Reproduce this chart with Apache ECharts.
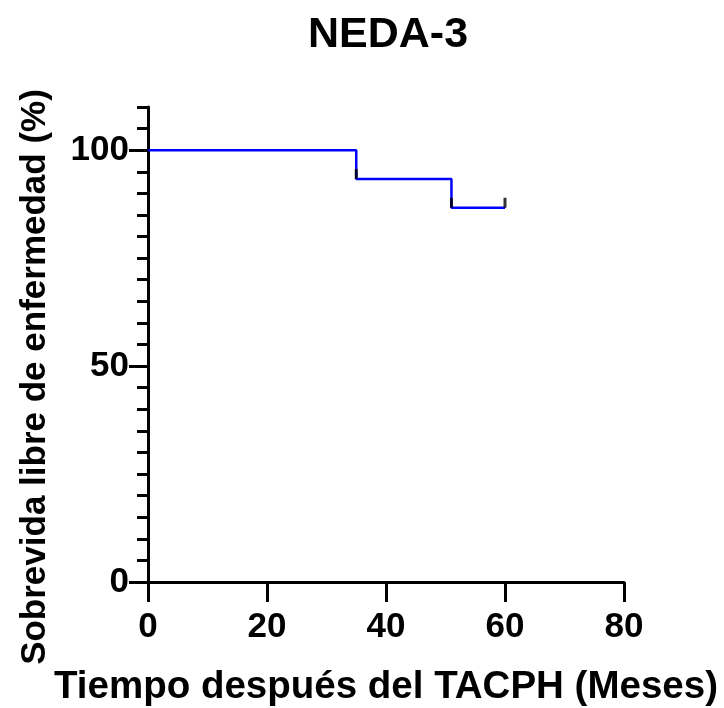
<!DOCTYPE html>
<html>
<head>
<meta charset="utf-8">
<script src="https://cdn.jsdelivr.net/npm/echarts@6/dist/echarts.min.js"></script>
<style>
  html, body { margin: 0; padding: 0; background: #fff; }
  #chart { width: 724px; height: 708px; }
</style>
</head>
<body>
<div id="chart"></div>
<script>
// Kaplan-Meier, NEDA-3
var times = [0, 35, 51, 60];
var survival = [100, 93.33, 86.67, 86.67];
var censorTimes = [35, 51, 60];
var censorValues = [93.33, 86.67, 86.67];
var yMajor = [0, 50, 100];
var yMinor = [5, 10, 15, 20, 25, 30, 35, 40, 45, 55, 60, 65, 70, 75, 80, 85, 90, 95, 105, 110];

var font = "'Liberation Sans', Arial, sans-serif";

var myChart = echarts.init(document.getElementById("chart"));

var curve = [];
for (var i = 0; i < times.length; i++) curve.push([times[i], survival[i]]);
var censored = [];
for (var j = 0; j < censorTimes.length; j++) censored.push([censorTimes[j], censorValues[j]]);

myChart.setOption({
  animation: false,
  title: {
    text: "NEDA-3",
    left: 303,
    top: 9,
    textStyle: { fontFamily: font, fontWeight: "bold", fontSize: 43, color: "#000" }
  },
  grid: {
    left: 148, right: 100, top: 107, bottom: 126,
    containLabel: false,
    outerBoundsMode: "none"
  },
  graphic: [{
    type: "text",
    x: 35,
    y: 377,
    rotation: Math.PI / 2,
    style: {
      text: "Sobrevida libre de enfermedad (%)",
      fontFamily: font, fontWeight: "bold", fontSize: 35,
      fill: "#000", align: "center", verticalAlign: "middle"
    }
  }],
  xAxis: {
    type: "value",
    min: 0, max: 80, interval: 20,
    name: "Tiempo después del TACPH (Meses)",
    nameLocation: "middle",
    nameGap: 86,
    nameTextStyle: { fontFamily: font, fontWeight: "bold", fontSize: 38.5, color: "#000" },
    axisLine: { lineStyle: { color: "#000", width: 3 } },
    axisTick: { length: 20, lineStyle: { color: "#000", width: 3 } },
    axisLabel: { margin: 28, fontFamily: font, fontWeight: "bold", fontSize: 35, color: "#000" },
    splitLine: { show: false }
  },
  yAxis: [{
    type: "value",
    min: 0, max: 110,
    axisLine: { show: true, lineStyle: { color: "#000", width: 3 } },
    axisTick: { show: true, length: 19, customValues: yMajor, lineStyle: { color: "#000", width: 3 } },
    axisLabel: { margin: 19, customValues: yMajor, fontFamily: font, fontWeight: "bold", fontSize: 35, color: "#000" },
    splitLine: { show: false }
  }, {
    type: "value",
    min: 0, max: 110,
    position: "left",
    axisLine: { show: false },
    axisTick: { show: true, length: 11, customValues: yMinor, lineStyle: { color: "#000", width: 3 } },
    axisLabel: { show: false },
    splitLine: { show: false }
  }],
  series: [{
    type: "line",
    step: "end",
    data: curve,
    showSymbol: false,
    lineStyle: { color: "#0000ff", width: 2.5 },
    z: 3
  }, {
    type: "scatter",
    data: censored,
    symbol: "rect",
    symbolSize: [3, 10],
    symbolOffset: [0, -5],
    itemStyle: { color: "#000" },
    z: 4
  }]
});
</script>
</body>
</html>
